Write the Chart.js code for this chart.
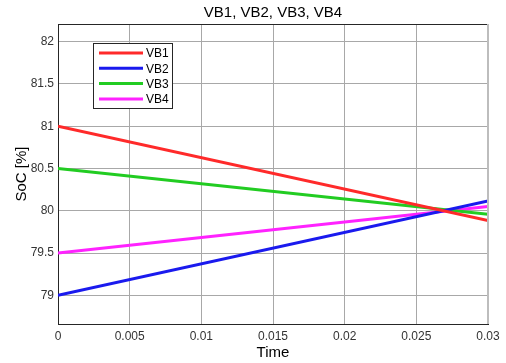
<!DOCTYPE html>
<html>
<head>
<meta charset="utf-8">
<script src="https://cdn.jsdelivr.net/npm/chart.js@4"></script>
<style>
  html, body { margin: 0; padding: 0; background: #fff; }
  #wrap { width: 506px; height: 363px; }
</style>
</head>
<body>
<div id="wrap"><canvas id="socChart" width="506" height="363"></canvas></div>
<script>
// dados
const timeValues = [0, 0.03];
const vb1 = [81, 79.885];
const vb2 = [79, 80.115];
const vb3 = [80.5, 79.96];
const vb4 = [79.5, 80.05];
const seriesNames = ['VB1', 'VB2', 'VB3', 'VB4'];
const xTicks = [0, 0.005, 0.01, 0.015, 0.02, 0.025, 0.03];
const yTicks = [79, 79.5, 80, 80.5, 81, 81.5, 82];

const colors = ['#ff2a2a', '#1a1aee', '#22cc22', '#ff22ff'];
const fontFam = '"Liberation Sans", Arial, sans-serif';

function toPoints(vals) {
    return timeValues.map((t, i) => ({ x: t, y: vals[i] }));
}

// titulo, caixa e legenda desenhados por cima
const boxPlugin = {
    id: 'boxPlugin',
    afterDraw(chart) {
        const ctx = chart.ctx;
        const a = chart.chartArea;
        ctx.save();
        ctx.strokeStyle = '#262626';
        ctx.lineWidth = 1;
        ctx.beginPath();
        ctx.moveTo(a.left, a.top + 0.5);
        ctx.lineTo(a.right, a.top + 0.5);
        ctx.stroke();
        ctx.strokeStyle = '#bdbdbd';
        ctx.lineWidth = 2;
        ctx.beginPath();
        ctx.moveTo(a.right, a.top);
        ctx.lineTo(a.right, a.bottom);
        ctx.stroke();

        // titulo
        ctx.fillStyle = '#000';
        ctx.font = '15px ' + fontFam;
        ctx.textAlign = 'center';
        ctx.textBaseline = 'middle';
        ctx.fillText('VB1, VB2, VB3, VB4', (a.left + a.right) / 2, 13);

        // legenda
        const lx = 93, ly = 43, lw = 79, lh = 65;
        ctx.fillStyle = '#fff';
        ctx.fillRect(lx, ly, lw, lh);
        ctx.strokeStyle = '#262626';
        ctx.lineWidth = 1;
        ctx.strokeRect(lx + 0.5, ly + 0.5, lw, lh);
        ctx.font = '12px ' + fontFam;
        ctx.textAlign = 'left';
        chart.data.datasets.forEach((ds, i) => {
            const y = ly + 10 + i * 15.3;
            ctx.strokeStyle = ds.borderColor;
            ctx.lineWidth = 3;
            ctx.beginPath();
            ctx.moveTo(lx + 6, y);
            ctx.lineTo(lx + 50, y);
            ctx.stroke();
            ctx.fillStyle = '#000';
            ctx.fillText(ds.label, lx + 53, y + 1);
        });
        ctx.restore();
    }
};

const ctx = document.getElementById('socChart').getContext('2d');
new Chart(ctx, {
    type: 'line',
    data: {
        datasets: [vb1, vb2, vb3, vb4].map((v, i) => ({
            label: seriesNames[i],
            data: toPoints(v),
            borderColor: colors[i],
            backgroundColor: colors[i],
            borderWidth: 3,
            pointRadius: 0,
            tension: 0,
            fill: false
        }))
    },
    options: {
        responsive: false,
        animation: false,
        layout: { padding: { top: 24, right: 18, left: 0, bottom: 0 } },
        plugins: {
            legend: { display: false },
            title: { display: false },
            tooltip: { enabled: false }
        },
        scales: {
            x: {
                type: 'linear',
                min: 0,
                max: 0.03,
                afterBuildTicks: s => { s.ticks = xTicks.map(v => ({ value: v })); },
                afterFit: s => { s.height = 39; },
                ticks: {
                    color: '#333',
                    font: { size: 12, family: fontFam },
                    padding: 5,
                    maxRotation: 0,
                    callback: v => String(parseFloat(Number(v).toFixed(3)))
                },
                grid: { color: '#a8a8a8', lineWidth: 1, drawTicks: false },
                border: { color: '#262626', width: 1 },
                title: {
                    display: true,
                    text: 'Time',
                    color: '#000',
                    font: { size: 15, family: fontFam },
                    padding: { top: 0, bottom: 1 }
                }
            },
            y: {
                type: 'linear',
                min: 78.66,
                max: 82.21,
                afterBuildTicks: s => { s.ticks = yTicks.map(v => ({ value: v })); },
                afterFit: s => { s.width = 58; },
                ticks: {
                    color: '#333',
                    font: { size: 12, family: fontFam },
                    padding: 4,
                    callback: v => String(v)
                },
                grid: { color: '#a8a8a8', lineWidth: 1, drawTicks: false },
                border: { color: '#262626', width: 1 },
                title: {
                    display: true,
                    text: 'SoC [%]',
                    color: '#000',
                    font: { size: 15, family: fontFam },
                    padding: { top: 13, bottom: 0 }
                }
            }
        }
    },
    plugins: [boxPlugin]
});
</script>
</body>
</html>
